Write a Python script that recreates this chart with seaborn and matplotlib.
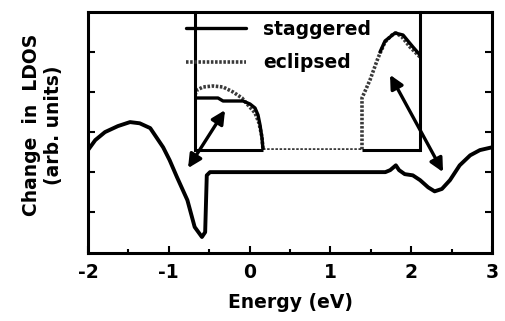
import numpy as np
import pandas as pd
import matplotlib
matplotlib.use("Agg")
import matplotlib.pyplot as plt
import seaborn as sns
from matplotlib.lines import Line2D

# ---- data ----
main_energy = [-2.00, -1.91, -1.79, -1.63, -1.48, -1.36, -1.23, -1.07, -0.99, -0.90,
               -0.77, -0.68, -0.59, -0.55, -0.53, -0.49, 1.68, 1.74, 1.81, 1.85,
               1.92, 2.02, 2.11, 2.21, 2.29, 2.38, 2.48, 2.60, 2.73, 2.85, 3.00]
main_ldos = [0.55, 0.80, 1.00, 1.15, 1.25, 1.22, 1.10, 0.62, 0.30, -0.12,
             -0.70, -1.37, -1.62, -1.50, -0.08, 0.00, 0.00, 0.05, 0.17, 0.05,
             -0.05, -0.08, -0.20, -0.38, -0.48, -0.42, -0.20, 0.17, 0.42, 0.55, 0.62]

# inset curves (inset x in energy-like units, y in arbitrary units)
stag_left_x = [-0.676, -0.391, -0.329, -0.082, 0.005, 0.067, 0.104, 0.129, 0.153, 0.166]
stag_left_y = [1.30, 1.30, 1.225, 1.225, 1.15, 1.05, 0.875, 0.625, 0.30, 0.00]
stag_right_x = [1.614, 1.676, 1.800, 1.899, 2.022, 2.109]
stag_right_y = [2.45, 2.725, 2.925, 2.875, 2.575, 2.375]
ecl_x = [-0.676, -0.651, -0.577, -0.453, -0.329, -0.205, -0.094, -0.020, 0.067, 0.116,
         0.153, 0.166, 1.391, 1.391, 1.490, 1.589, 1.676, 1.762, 1.812, 1.886, 1.985, 2.109]
ecl_y = [1.375, 1.50, 1.575, 1.60, 1.575, 1.45, 1.30, 1.125, 0.925, 0.675,
         0.325, 0.00, 0.00, 1.30, 1.75, 2.30, 2.70, 2.875, 2.925, 2.825, 2.575, 2.325]

x_ticks = [-2, -1, 0, 1, 2, 3]
legend_labels = ["staggered", "eclipsed"]
arrow_left = [(-0.762, 0.10), (-0.304, 1.55)]
arrow_right = [(2.394, 0.00), (1.738, 2.43)]

# ---- style ----
sns.set_style("ticks")
plt.rcParams["font.family"] = ["DejaVu Sans"]
plt.rcParams["font.weight"] = "bold"
plt.rcParams["axes.labelweight"] = "bold"
plt.rcParams["text.color"] = "black"
plt.rcParams["axes.labelcolor"] = "black"
plt.rcParams["xtick.color"] = "black"
plt.rcParams["ytick.color"] = "black"

fig = plt.figure(figsize=(5.05, 3.21), dpi=100)
ax = fig.add_axes([88/505, 1-253/321, 404/505, 241/321])

df_main = pd.DataFrame({"E": main_energy, "L": main_ldos})
sns.lineplot(data=df_main, x="E", y="L", ax=ax, sort=False, estimator=None,
             color="black", lw=2.8)

ax.set_xlim(-2, 3)
ax.set_ylim(-2.02, 4)
ax.set_xticks(x_ticks)
ax.set_xticklabels([str(t) for t in x_ticks], fontsize=13.5, fontweight="bold",
                   color="black")
ax.set_xticks(np.arange(-1.5, 3, 1.0), minor=True)
ax.set_yticks([-1, 0, 1, 2, 3])
ax.set_yticklabels([])
ax.tick_params(axis="both", which="both", direction="in", width=1.5, colors="black")
ax.tick_params(axis="x", which="major", length=5, pad=7)
ax.tick_params(axis="x", which="minor", length=3)
ax.tick_params(axis="y", which="major", length=5, left=True, right=True)
for s in ax.spines.values():
    s.set_linewidth(2.2)
    s.set_color("black")
ax.set_xlabel("Energy (eV)", fontsize=13.5, fontweight="bold", labelpad=8,
              color="black")
ax.set_ylabel("Change  in  LDOS\n(arb. units)", fontsize=13.5, fontweight="bold",
              linespacing=1.2, color="black")
ax.yaxis.set_label_coords(-0.062, 0.53)

# arrows
for (p0, p1) in (arrow_left, arrow_right):
    ax.annotate("", xy=p1, xytext=p0,
                arrowprops=dict(arrowstyle="<|-|>", lw=2.4, color="black",
                                mutation_scale=20, shrinkA=0, shrinkB=0), zorder=5)

# ---- inset ----
ins = fig.add_axes([195/505, 1-150/321, 225/505, 138/321])
ins.patch.set_alpha(0)
dot_style = (0, (0.7, 0.45))
sns.lineplot(x=ecl_x, y=ecl_y, ax=ins, sort=False, estimator=None, color="#3a3a3a",
             lw=2.6, linestyle=dot_style)
sns.lineplot(x=stag_left_x, y=stag_left_y, ax=ins, sort=False, estimator=None,
             color="black", lw=2.4)
sns.lineplot(x=stag_right_x, y=stag_right_y, ax=ins, sort=False, estimator=None,
             color="black", lw=2.4)
ins.set_xlim(-0.676, 2.109)
ins.set_ylim(0, 3.45)
ins.set_xticks([])
ins.set_yticks([])
ins.spines["top"].set_visible(False)
ins.spines["bottom"].set_visible(False)
for side in ("left", "right"):
    ins.spines[side].set_linewidth(2.2)
    ins.spines[side].set_color("black")
# solid bottom segments of the inset frame
ins.plot([0, 0.302], [0, 0], transform=ins.transAxes, color="black", lw=2.2,
         solid_capstyle="butt", clip_on=False)
ins.plot([0.742, 1.0], [0, 0], transform=ins.transAxes, color="black", lw=2.2,
         solid_capstyle="butt", clip_on=False)

handles = [Line2D([], [], color="black", lw=2.4),
           Line2D([], [], color="#3a3a3a", lw=2.6, linestyle=dot_style)]
leg = fig.legend(handles, legend_labels, loc="upper left",
                 bbox_to_anchor=(186/505, 1-20/321), frameon=False,
                 prop=dict(size=13.5, weight="bold"), handlelength=3.2,
                 handletextpad=0.9, labelspacing=0.75, borderpad=0, borderaxespad=0)

fig.savefig("out.png", dpi=100)
